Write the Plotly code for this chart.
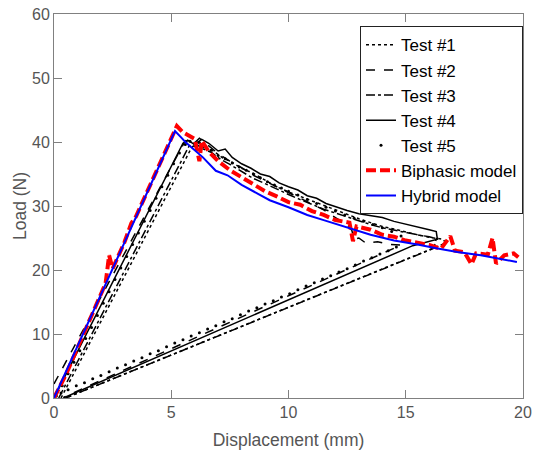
import plotly.graph_objects as go

# ---------------- data ----------------
t1_x = [0.3, 5.85, 6.1, 6.4, 6.8, 7.2, 7.6, 8.0, 8.5, 9.0, 9.5, 10.0, 10.5, 11.0, 11.5, 12.0,
        12.5, 13.0, 13.5, 14.0, 14.5, 15.0, 15.5, 16.0, 16.6, 16.7, 0.5]
t1_y = [0.0, 39.0, 40.0, 39.2, 38.6, 37.5, 36.8, 35.9, 35.1, 34.0, 33.0, 32.2, 31.5, 30.7, 30.0, 29.3,
        28.6, 28.0, 27.4, 26.8, 26.4, 25.9, 25.5, 25.1, 24.8, 24.2, 0.0]

t2_x = [0.0, 5.6, 5.9, 6.2, 6.6, 7.0, 7.5, 8.0, 8.5, 9.0, 9.5, 10.0, 10.5, 11.0, 11.5, 12.0,
        12.5, 12.7, 12.8, 13.0, 13.3, 13.8, 14.3, 14.8, 0.4]
t2_y = [2.2, 40.2, 39.5, 40.6, 39.4, 38.2, 37.0, 36.0, 34.8, 33.9, 33.0, 32.0, 31.2, 30.3, 29.4, 28.2,
        27.0, 26.2, 24.8, 25.0, 24.2, 24.4, 24.0, 23.9, 0.1]

t3_x = [0.2, 5.75, 6.0, 6.3, 6.7, 7.1, 7.5, 8.0, 8.5, 9.0, 9.5, 10.0, 10.5, 11.0, 11.5, 12.0,
        12.5, 13.0, 13.5, 14.0, 14.5, 15.0, 15.5, 16.0, 16.3, 16.2, 16.0, 0.5]
t3_y = [0.0, 39.3, 39.9, 39.0, 38.4, 37.3, 36.5, 35.4, 34.3, 33.5, 32.6, 31.8, 31.0, 30.2, 29.5, 28.9,
        28.3, 27.6, 27.1, 26.6, 26.2, 25.9, 25.5, 25.2, 24.9, 23.4, 23.1, 0.0]

t4_x = [0.0, 5.5, 5.7, 6.0, 6.3, 6.6, 7.0, 7.3, 7.6, 8.0, 8.4, 8.8, 9.2, 9.6, 10.0, 10.4, 10.8,
        11.2, 11.6, 12.0, 12.5, 13.0, 13.5, 14.0, 14.5, 15.0, 15.5, 16.0, 16.3, 16.35, 15.3, 0.4]
t4_y = [0.0, 39.8, 40.3, 39.6, 40.4, 39.8, 38.6, 38.9, 37.6, 36.6, 35.9, 35.0, 34.6, 33.6, 33.0, 32.5, 31.6,
        31.2, 30.4, 29.9, 29.3, 28.8, 28.5, 28.2, 27.6, 27.2, 26.8, 26.3, 26.0, 24.8, 23.8, 0.0]

t5_x = [0.1, 0.35, 0.6, 0.85, 1.1, 1.35, 1.6, 1.85, 2.1, 2.35, 2.6, 2.85, 3.1, 3.35, 3.6, 3.85,
        4.1, 4.35, 4.6, 4.85, 5.1, 5.35, 5.6,
        5.8, 6.0, 6.2, 6.4, 6.7, 7.0, 7.3, 7.6, 7.9, 8.2, 8.5, 8.8, 9.1, 9.4, 9.7, 10.0, 10.4,
        10.8, 11.2, 11.6, 12.0, 12.4, 12.8, 13.2, 13.6, 14.0, 14.4, 14.8, 15.0, 14.6,
        14.25, 13.9, 13.55, 13.2, 12.85, 12.5, 12.15, 11.8, 11.45, 11.1, 10.75, 10.4, 10.05,
        9.7, 9.35, 9.0, 8.65, 8.3, 7.95, 7.6, 7.25, 6.9, 6.55, 6.2, 5.85, 5.5, 5.15, 4.8,
        4.45, 4.1, 3.75, 3.4, 3.05, 2.7, 2.35, 2.0, 1.65, 1.3, 0.95, 0.6, 0.3]
t5_y = [0.3, 1.9, 3.8, 5.6, 7.4, 9.3, 11.0, 12.9, 14.8, 16.6, 18.5, 20.3, 22.1, 24.0, 25.8, 27.6,
        29.3, 31.2, 33.0, 34.8, 36.6, 38.3, 39.6,
        40.1, 39.4, 39.9, 39.3, 38.7, 37.9, 37.4, 36.7, 36.1, 35.6, 35.0, 34.4, 33.8, 33.3, 32.8, 32.3, 31.7,
        31.0, 30.4, 29.8, 29.2, 28.6, 28.1, 27.6, 27.1, 26.6, 26.0, 25.3, 24.6, 23.6,
        23.0, 22.5, 21.9, 21.4, 20.8, 20.2, 19.7, 19.1, 18.6, 18.0, 17.5, 16.9, 16.3,
        15.8, 15.2, 14.7, 14.1, 13.6, 13.0, 12.4, 11.9, 11.3, 10.8, 10.2, 9.7, 9.1, 8.6, 8.0,
        7.4, 6.9, 6.3, 5.8, 5.2, 4.7, 4.1, 3.5, 3.0, 2.4, 1.9, 1.3, 0.8]

bi_x = [0.0, 0.5, 1.0, 1.5, 2.2, 2.35, 2.5, 3.0, 3.3, 3.5, 4.0, 4.5, 5.0, 5.24, 5.5, 5.8, 6.0, 6.2,
        6.3, 6.6, 7.0, 7.5, 8.0, 8.5, 9.0, 9.5, 10.0, 10.5, 11.0, 11.5, 12.0, 12.6, 12.75, 12.9,
        13.5, 14.0, 14.5, 15.0, 15.5, 16.0, 16.5, 16.9, 17.1, 17.5, 17.8, 18.0, 18.5, 18.7, 18.85,
        19.2, 19.6, 19.8]
bi_y = [0.0, 3.6, 7.8, 11.9, 17.9, 22.3, 20.2, 24.3, 27.3, 28.4, 32.5, 36.6, 40.6, 42.5, 41.5, 41.0, 40.5, 37.0,
        40.2, 38.5, 37.0, 35.6, 34.5, 33.5, 32.3, 31.5, 30.6, 30.2, 29.2, 28.6, 27.8, 27.4, 24.5, 26.8,
        26.3, 25.5, 25.2, 24.6, 24.3, 23.9, 23.3, 25.3, 23.0, 22.8, 20.9, 22.6, 22.4, 25.0, 21.0,
        22.3, 22.6, 22.0]

hy_x = [0.0, 1.0, 2.0, 3.0, 4.0, 5.16, 5.45, 5.6, 6.35, 6.9, 7.4, 8.0, 8.7, 9.2, 10.0, 10.8, 11.5,
        12.5, 13.5, 14.5, 15.5, 16.3, 17.2, 18.2, 19.0, 19.74]
hy_y = [0.0, 8.1, 16.2, 24.3, 32.3, 41.7, 40.6, 40.0, 37.6, 35.5, 34.8, 33.3, 31.9, 30.9, 29.8, 28.6, 27.8,
        26.6, 25.5, 24.6, 24.0, 23.4, 22.8, 22.3, 21.8, 21.25]

x_ticks = [0, 5, 10, 15, 20]
y_ticks = [0, 10, 20, 30, 40, 50, 60]

# ---------------- figure ----------------
fig = go.Figure()
blk = "#000000"
fig.add_trace(go.Scatter(x=t1_x, y=t1_y, mode="lines", name="Test #1",
                         line=dict(color=blk, width=1.5, dash="dot")))
fig.add_trace(go.Scatter(x=t2_x, y=t2_y, mode="lines", name="Test #2",
                         line=dict(color=blk, width=1.5, dash="dash")))
fig.add_trace(go.Scatter(x=t3_x, y=t3_y, mode="lines", name="Test #3",
                         line=dict(color=blk, width=1.5, dash="dashdot")))
fig.add_trace(go.Scatter(x=t4_x, y=t4_y, mode="lines", name="Test #4",
                         line=dict(color=blk, width=1.5)))
fig.add_trace(go.Scatter(x=t5_x, y=t5_y, mode="markers", name="Test #5",
                         marker=dict(color=blk, size=3)))
fig.add_trace(go.Scatter(x=bi_x, y=bi_y, mode="lines", name="Biphasic model",
                         line=dict(color="#ff0000", width=4, dash="10px,4px")))
fig.add_trace(go.Scatter(x=hy_x, y=hy_y, mode="lines", name="Hybrid model",
                         line=dict(color="#0000ff", width=2)))

axis_col = "#808080"
txt_col = "#555555"
font_fam = "Liberation Sans, Arial, sans-serif"
fig.update_layout(
    width=533, height=450,
    margin=dict(l=54, r=10, t=14, b=52, autoexpand=False),
    paper_bgcolor="white", plot_bgcolor="white",
    font=dict(family=font_fam, size=16, color=txt_col),
    showlegend=True,
    legend=dict(x=1.0, y=0.968, xanchor="right", yanchor="top",
                bgcolor="white", bordercolor="#222222", borderwidth=1,
                font=dict(family=font_fam, size=17, color="black"),
                tracegroupgap=0, itemwidth=30),
)
fig.update_xaxes(range=[0, 20], tickvals=x_ticks, ticks="inside", ticklen=8, tickcolor=axis_col,
                 showline=True, linecolor=axis_col, linewidth=1, mirror="ticks",
                 showgrid=False, zeroline=False, automargin=False,
                 title=dict(text="Displacement (mm)", font=dict(size=17.5, color=txt_col), standoff=15),
                 tickfont=dict(size=16, color=txt_col))
fig.update_yaxes(range=[0, 60], tickvals=y_ticks, ticks="inside", ticklen=8, tickcolor=axis_col,
                 showline=True, linecolor=axis_col, linewidth=1, mirror="ticks",
                 showgrid=False, zeroline=False, automargin=False,
                 title=dict(text="Load (N)", font=dict(size=17.5, color=txt_col), standoff=0),
                 tickfont=dict(size=16, color=txt_col))

# remove the default page margin so the figure sits at the window's top-left corner
fig.write_html("out.html", config={"displayModeBar": False},
               post_script="document.body.style.margin='0';")
